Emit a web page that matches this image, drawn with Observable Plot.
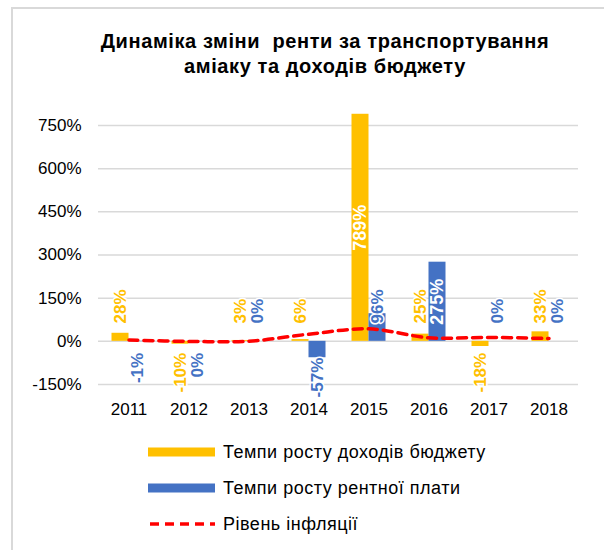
<!DOCTYPE html>
<html><head><meta charset="utf-8">
<script src="https://cdn.jsdelivr.net/npm/d3@7"></script>
<script src="https://cdn.jsdelivr.net/npm/@observablehq/plot@0.6"></script>
<style>
body{margin:0;background:#fff;font-family:"Liberation Sans",Arial,sans-serif;}
#wrap{position:relative;width:604px;height:550px;overflow:hidden;background:#fff;}
#frame{position:absolute;left:11px;top:7px;width:700px;height:700px;border-left:2px solid #d9d9d9;border-top:2px solid #d9d9d9;}
#title{position:absolute;left:0;width:650px;top:29px;text-align:center;font-weight:bold;font-size:20px;letter-spacing:0.6px;line-height:25px;color:#000;}
#chart{position:absolute;left:0;top:0;}
#chart text{paint-order:stroke;}
#legend{position:absolute;left:148px;top:434px;}
.item{display:flex;align-items:center;height:36px;font-size:18px;letter-spacing:0.5px;color:#000;white-space:nowrap;}
.item svg{margin-right:8px;}
</style></head><body>
<div id="wrap">
  <div id="frame"></div>
  <div id="title">Динаміка зміни&nbsp; ренти за транспортування<br>аміаку та доходів бюджету</div>
  <div id="chart"></div>
  <div id="legend"></div>
</div>
<script>
const years = ["2011","2012","2013","2014","2015","2016","2017","2018"];
const budgetGrowth = [28, -10, 3, 6, 789, 25, -18, 33];
const rentGrowth = [-1, -0.4, 0, -57, 96, 275, 0, 0];
const inflation = [4.6, -0.2, 0.5, 24.9, 43.3, 12.4, 13.7, 9.8];
const yTicks = [-150, 0, 150, 300, 450, 600, 750];
const seriesNames = ["Темпи росту доходів бюджету", "Темпи росту рентної плати", "Рівень інфляції"];
const colors = ["#FFC000", "#4472C4", "#FF0000"];

const budget = years.map((year, i) => ({year, value: budgetGrowth[i]}));
const rent = years.map((year, i) => ({year, value: rentGrowth[i]}));
const infl = years.map((year, i) => ({year, value: inflation[i]}));

// label anchors (in % units) used for the small data labels
const posLabelBase = 62;
const negLabelBase = -40;
const fmt = v => `${Math.round(v) || 0}%`;

function labelMarks(data, color, dx) {
  const big = data.filter(d => d.value >= 200);
  const pos = data.filter(d => d.value >= 0 && d.value < 200);
  const neg = data.filter(d => d.value < 0);
  const common = {x: "year", text: d => fmt(d.value), rotate: -90, dx, fontWeight: "bold"};
  return [
    Plot.text(pos, {...common, y: d => Math.max(Math.min(d.value, 0) + posLabelBase, 0), textAnchor: "start", fill: color, stroke: "white", strokeWidth: 3, fontSize: 17}),
    Plot.text(neg, {...common, y: d => Math.min(d.value, negLabelBase), textAnchor: "end", fill: color, stroke: "white", strokeWidth: 3, fontSize: 17}),
    Plot.text(big, {...common, y: d => d.value / 2, textAnchor: "middle", fill: "white", fontSize: 18})
  ];
}

const chart = Plot.plot({
  width: 604,
  height: 430,
  marginLeft: 98,
  marginRight: 26,
  marginTop: 125,
  marginBottom: 46,
  style: {fontFamily: "Liberation Sans, Arial, sans-serif", fontSize: "17px", color: "#000", background: "transparent", overflow: "visible"},
  x: {domain: years, paddingInner: 0.717, paddingOuter: 0.358, tickSize: 0, tickPadding: 18, label: null},
  y: {domain: [-150, 750], ticks: yTicks, tickFormat: d => d + "%", tickSize: 0, tickPadding: 17, label: null},
  marks: [
    Plot.ruleY(yTicks, {stroke: "#d9d9d9", strokeWidth: 1.5}),
    Plot.barY(budget, {x: "year", y: "value", fill: colors[0], dx: -8.5}),
    Plot.barY(rent, {x: "year", y: "value", fill: colors[1], dx: 8.5}),
    Plot.line(infl, {x: "year", y: "value", stroke: colors[2], strokeWidth: 3.5, strokeDasharray: "9,6", curve: "catmull-rom"}),
    ...labelMarks(budget, colors[0], -8.5),
    ...labelMarks(rent, colors[1], 8.5)
  ]
});
document.getElementById("chart").appendChild(chart);

const legend = document.getElementById("legend");
seriesNames.forEach((name, i) => {
  const item = document.createElement("div");
  item.className = "item";
  const sw = i < 2
    ? `<svg width="67" height="10"><rect x="0" y="0.5" width="67" height="9" fill="${colors[i]}"/></svg>`
    : `<svg width="67" height="10"><line x1="2" x2="67" y1="5" y2="5" stroke="${colors[i]}" stroke-width="3.5" stroke-dasharray="9,6"/></svg>`;
  item.innerHTML = sw + `<span>${name}</span>`;
  legend.appendChild(item);
});
</script>
</body></html>
